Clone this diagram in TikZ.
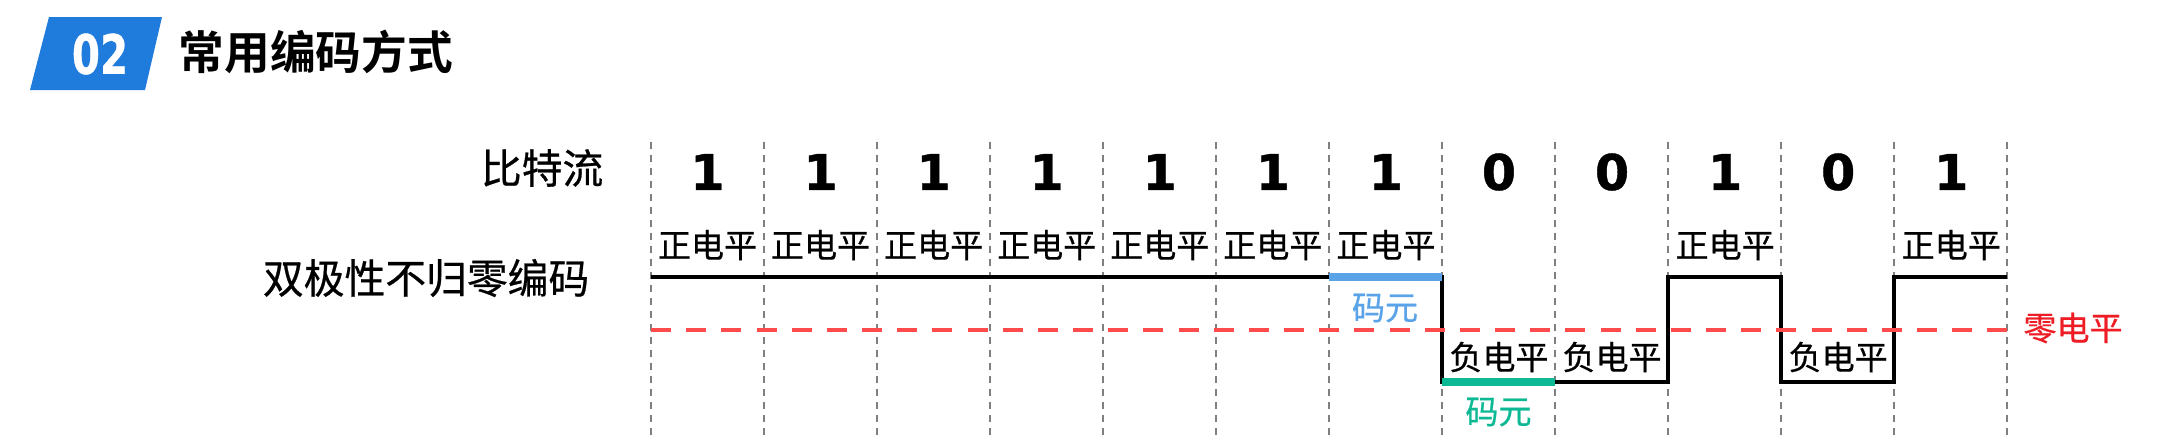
\documentclass[tikz,border=0pt]{standalone}
\usepackage{fontspec}
\setmainfont{Liberation Sans}
\newfontfamily\cjk{Noto Sans CJK SC}[FakeBold=0.6]
\newfontfamily\cjkbold{Noto Sans CJK SC Bold}
\newfontfamily\digits{DejaVu Sans}[FakeBold=0.8]
\usetikzlibrary{positioning}
\definecolor{hdrblue}{HTML}{1F7BDC}
\definecolor{zerored}{HTML}{FF4B4B}
\definecolor{labred}{HTML}{EE1C24}
\definecolor{cellblue}{HTML}{5BA3E8}
\definecolor{cellgreen}{HTML}{0DB894}
\definecolor{gridgray}{HTML}{808080}
\tikzset{
    bit/.style = {
        font=\digits\fontsize{14}{15}\selectfont\bfseries,
        inner sep=0pt
    },
    level/.style = {
        font=\cjk\fontsize{9.4}{10}\selectfont,
        inner sep=0pt
    },
    rowlabel/.style = {
        font=\cjk\fontsize{11.6}{12}\selectfont,
        inner sep=0pt,
        anchor=east
    },
    gridline/.style = {
        draw=gridgray,
        line width=0.7pt,
        dash pattern=on 2pt off 1.7pt
    },
    wave/.style = {
        draw=black,
        line width=1.2pt
    },
    zeroline/.style = {
        draw=zerored,
        line width=1.3pt,
        dash pattern=on 5.7pt off 4.3pt
    },
    cell/.style = {
        line width=2.1pt
    },
}

\begin{document}
\begin{tikzpicture}[x=0.01cm, y=-0.01cm, on grid, node distance=1.13cm]
    \useasboundingbox (0,0) rectangle (2180,438);

    % header
    \fill[hdrblue] (49,17) -- (162,17) -- (145,90) -- (30,90) -- cycle;
    \node[inner sep=0pt, text=white, xscale=0.78, yscale=1.05, font=\digits\fontsize{14.7}{15}\selectfont\bfseries] (num) at (100,54) {02};
    \node[inner sep=0pt, anchor=west, font=\cjkbold\fontsize{13}{14}\selectfont] (title) at (178,52) {常用编码方式};

    % row labels
    \node[rowlabel] (stream) at (604,168) {比特流};
    \node[rowlabel] (code) at (590,278) {双极性不归零编码};

    % grid and levels
    \foreach \i in {0,...,12}
        \coordinate (g\i) at (651+113*\i,142);
    \coordinate (bot) at (0,438);
    \coordinate (hi) at (0,277);
    \coordinate (zl) at (0,330);
    \coordinate (lo) at (0,382);
    \coordinate (neg) at (0,357);

    \foreach \i in {0,...,12}
        \draw[gridline] (g\i) -- (g\i |- bot);

    % bit stream
    \node[bit] (b1) at (707.5,172) {1};
    \node[bit, right=of b1] (b2) {1};
    \node[bit, right=of b2] (b3) {1};
    \node[bit, right=of b3] (b4) {1};
    \node[bit, right=of b4] (b5) {1};
    \node[bit, right=of b5] (b6) {1};
    \node[bit, right=of b6] (b7) {1};
    \node[bit, right=of b7] (b8) {0};
    \node[bit, right=of b8] (b9) {0};
    \node[bit, right=of b9] (b10) {1};
    \node[bit, right=of b10] (b11) {0};
    \node[bit, right=of b11] (b12) {1};

    % levels
    \node[level] (p1) at (707.5,245) {正电平};
    \node[level, right=of p1] (p2) {正电平};
    \node[level, right=of p2] (p3) {正电平};
    \node[level, right=of p3] (p4) {正电平};
    \node[level, right=of p4] (p5) {正电平};
    \node[level, right=of p5] (p6) {正电平};
    \node[level, right=of p6] (p7) {正电平};
    \node[level] (p10) at (b10 |- p1) {正电平};
    \node[level] (p12) at (b12 |- p1) {正电平};
    \node[level] (n8) at (b8 |- neg) {负电平};
    \node[level] (n9) at (b9 |- neg) {负电平};
    \node[level] (n11) at (b11 |- neg) {负电平};

    \draw[wave] (g0 |- hi) -- (g7 |- hi) -- (g7 |- lo) -- (g9 |- lo) -- (g9 |- hi)
        -- (g10 |- hi) -- (g10 |- lo) -- (g11 |- lo) -- (g11 |- hi) -- (g12 |- hi);

    \draw[zeroline] (g0 |- zl) -- (g12 |- zl);
    \node[level, text=labred] (zero) at (2073,328) {零电平};

    % code cells
    \draw[cell, cellblue] (g6 |- hi) -- (g7 |- hi);
    \node[level, text=cellblue] (cellA) at (1385,308) {码元};
    \draw[cell, cellgreen] (g7 |- lo) -- (g8 |- lo);
    \node[level, text=cellgreen] (cellB) at (1498.5,412) {码元};
\end{tikzpicture}
\end{document}
